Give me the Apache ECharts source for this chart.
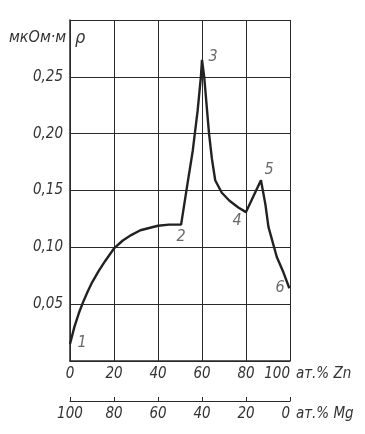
<!DOCTYPE html>
<html><head><meta charset="utf-8">
<script src="https://cdn.jsdelivr.net/npm/echarts@6/dist/echarts.min.js"></script>
<style>html,body{margin:0;padding:0;background:#fff}#c{width:365px;height:434px}</style>
</head><body><div id="c"></div>
<script>
// Resistivity of Mg–Zn alloys
const znPct = [0, 2, 4, 6, 8, 10, 13, 16, 20, 24, 28, 32, 36, 40, 45, 50.5, 53, 55.8, 58, 59.5, 60, 61, 63.2, 64.5, 66, 69, 72.5, 76.5, 80, 86.8, 88.8, 90.2, 94, 97, 99.7];
const rho   = [0.015, 0.03, 0.042, 0.052, 0.061, 0.069, 0.079, 0.088, 0.099, 0.106, 0.111, 0.115, 0.117, 0.119, 0.12, 0.12, 0.151, 0.185, 0.22, 0.25, 0.265, 0.25, 0.2, 0.178, 0.159, 0.148, 0.141, 0.135, 0.131, 0.159, 0.138, 0.118, 0.0915, 0.078, 0.064];
const pointLabels = ['1', '2', '3', '4', '5', '6'];
const pointX = [5.5, 50.5, 65, 76, 90.5, 95.5];
const pointY = [0.016, 0.109, 0.268, 0.123, 0.168, 0.064];
const xTicks = [0, 20, 40, 60, 80, 100];
const yTicks = [0.05, 0.10, 0.15, 0.20, 0.25];
const yUnit = 'мкОм·м';
const ySymbol = 'ρ';
const znUnit = 'ат.% Zn';
const mgUnit = 'ат.% Mg';

const FONT = '"Liberation Sans Narrow","DejaVu Sans Condensed",sans-serif';
const ink = '#2a2a2a';
const lab = {fontFamily: FONT, fontStyle: 'italic', fontSize: 15, color: '#333'};

const chart = echarts.init(document.getElementById('c'), null, {renderer: 'canvas'});
chart.setOption({
  animation: false,
  backgroundColor: '#fff',
  grid: {left: 70, right: 75, top: 20, bottom: 73, show: false, containLabel: false, outerBoundsMode: 'none'},
  xAxis: [{
    type: 'value', min: 0, max: 100, interval: 20, position: 'bottom',
    axisLine: {show: true, lineStyle: {color: ink, width: 1.5}},
    axisTick: {show: false},
    splitLine: {show: true, lineStyle: {color: ink, width: 1}},
    axisLabel: Object.assign({margin: 6, alignMaxLabel: 'right', formatter: v => xTicks.includes(v) ? String(v) : ''}, lab),
    name: znUnit, nameLocation: 'end', nameGap: -2,
    nameTextStyle: Object.assign({verticalAlign: 'top', padding: [6, 0, 0, 0]}, lab)
  }, {
    type: 'value', min: 0, max: 100, interval: 20, position: 'bottom', offset: 40, inverse: true,
    axisLine: {show: true, lineStyle: {color: ink, width: 1.2}},
    axisTick: {show: true, inside: true, length: 4, lineStyle: {color: ink}},
    splitLine: {show: false},
    axisLabel: Object.assign({margin: 6, alignMinLabel: 'right', formatter: v => String(v)}, lab),
    name: mgUnit, nameLocation: 'start', nameGap: -4,
    nameTextStyle: Object.assign({verticalAlign: 'top', padding: [6, 0, 0, 0]}, lab)
  }],
  yAxis: {
    type: 'value', min: 0, max: 0.30, interval: 0.05,
    axisLine: {show: true, lineStyle: {color: ink, width: 1.5}},
    axisTick: {show: false},
    splitLine: {show: true, lineStyle: {color: ink, width: 1}},
    axisLabel: Object.assign({margin: 7, formatter: v => {
      const t = yTicks.find(k => Math.abs(k - v) < 1e-9);
      return t === undefined ? '' : t.toFixed(2).replace('.', ',');
    }}, lab)
  },
  graphic: [
    {type: 'text', left: 9, top: 30, style: {text: yUnit, font: 'italic 16px ' + FONT, fill: '#333'}},
    {type: 'text', left: 75, top: 29, style: {text: ySymbol, font: 'italic 18px ' + FONT, fill: '#333'}}
  ],
  series: [{
    type: 'line', xAxisIndex: 0, data: znPct.map((x, i) => [x, rho[i]]),
    symbol: 'none', smooth: false,
    lineStyle: {color: '#222', width: 2.4}, z: 5
  }, {
    type: 'scatter', xAxisIndex: 0, symbolSize: 0,
    data: pointX.map((x, i) => ({value: [x, pointY[i]], name: pointLabels[i]})),
    label: {show: true, position: 'inside', formatter: p => p.name,
      fontFamily: FONT, fontStyle: 'italic', fontSize: 16, color: '#444'}
  }]
});
</script></body></html>
